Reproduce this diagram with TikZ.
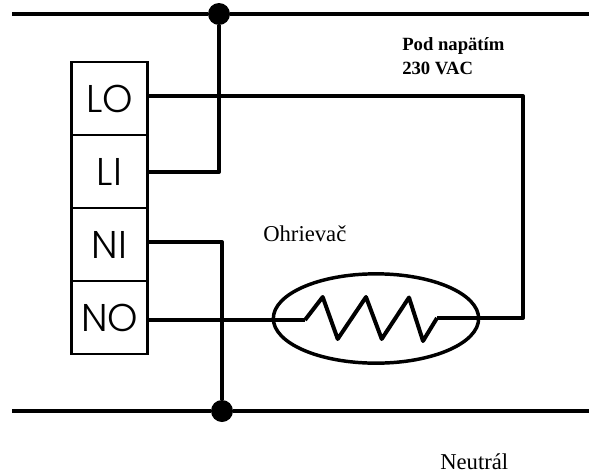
\documentclass[tikz,border=0pt]{standalone}
\usepackage{fontspec}
\setmainfont{Liberation Serif}
\newfontfamily\termfont{Poppins Light}
\usetikzlibrary{shapes.geometric}
\tikzstyle{terminal} = [rectangle, 
minimum width=57pt, 
minimum height=54.75pt, 
inner sep=0pt, 
text centered, 
draw=black, 
line width=2.2pt, 
font=\termfont\fontsize{29}{29}\selectfont]
\tikzstyle{junction} = [circle, 
minimum size=16.5pt, 
inner sep=0pt, 
fill=black]
\tikzstyle{heater} = [ellipse, 
minimum width=154pt, 
minimum height=67pt, 
inner sep=0pt, 
draw=black, 
line width=2.6pt]
\tikzstyle{wire} = [line width=3pt, line join=round]
\tikzstyle{caption} = [anchor=base west, inner sep=0pt, font=\fontsize{17}{17}\selectfont]

\begin{document}
\begin{tikzpicture}[x=0.75pt, y=-0.75pt, node distance=54.75pt]
  \useasboundingbox (0,0) rectangle (589,475);

  \node (lo) [terminal] at (109.5,98.5) {LO};
  \node (li) [terminal, below of=lo] {LI};
  \node (ni) [terminal, below of=li] {NI};
  \node (no) [terminal, below of=ni] {NO};

  \node (live) [junction] at (219,14) {};
  \node (neutral) [junction] at (222,411) {};
  \node (heat) [heater] at (376,318.5) {};

  \coordinate (liveL) at (12,14);
  \coordinate (liveR) at (589,14);
  \coordinate (neutralL) at (12,411);
  \coordinate (neutralR) at (589,411);
  \coordinate (coilL) at (305,320);
  \coordinate (coilR) at (437,318);
  \coordinate (loCorner) at (523,96);
  \coordinate (loEnd) at (523,318);

  % bus lines
  \draw [wire] (liveL) -- (live) -- (liveR);
  \draw [wire] (neutralL) -- (neutral) -- (neutralR);

  % terminals
  \draw [wire] (li.east |- 0,172) -| (live);
  \draw [wire] (ni.east |- 0,242) -| (neutral);
  \draw [wire] (lo.east |- loCorner) -- (loCorner) -- (loEnd) -- (coilR);
  \draw [wire] (no.east |- coilL) -- (coilL);

  % coil
  \draw [wire] (coilL) -- (322.7,297) -- (337.7,339) -- (366,297) -- (381.7,339) -- (409,297.5) -- (423,341) -- (coilR);

  \node (heatLabel) [caption] at (263,241.5) {Ohrievač};
  \node (neutralLabel) [caption] at (440,469) {Neutrál};
  \node (liveLabel) [caption, align=left, font=\bfseries\fontsize{14}{17.5}\selectfont] at (402,74) {Pod napätím\\230 VAC};
\end{tikzpicture}
\end{document}
